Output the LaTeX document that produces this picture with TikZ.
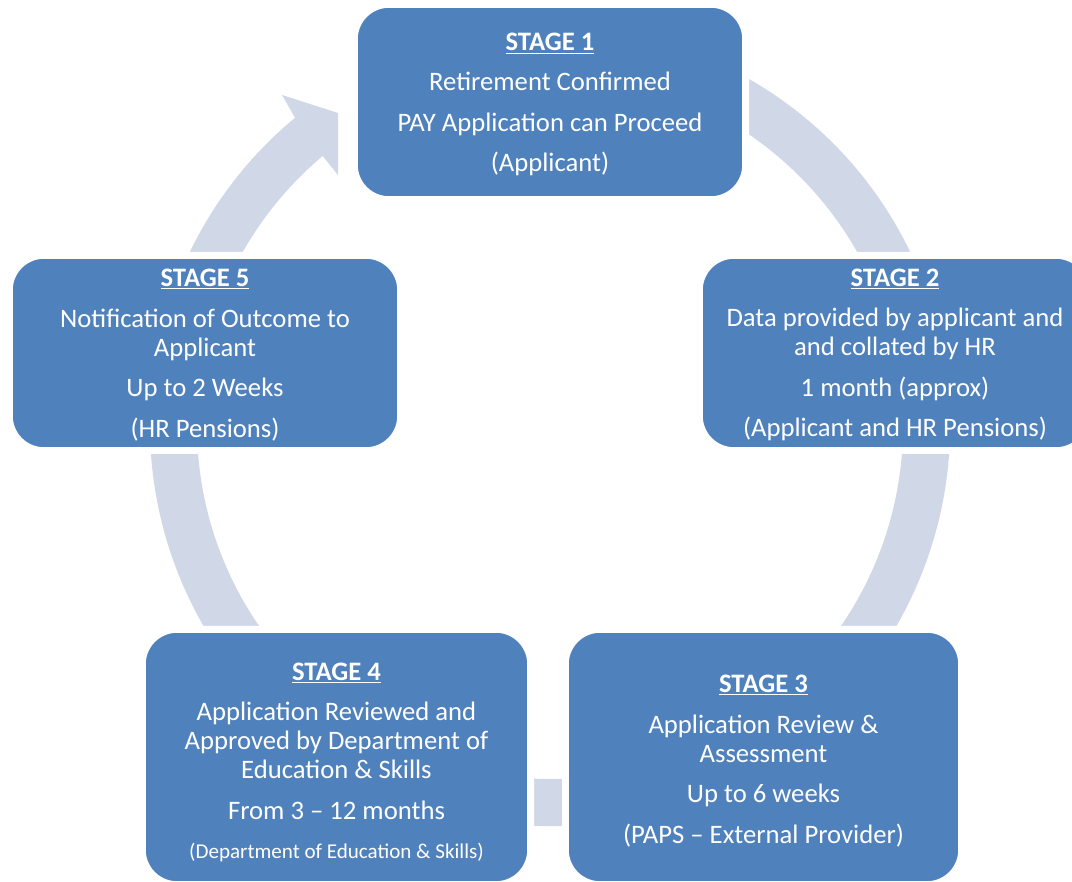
\documentclass[tikz,border=0pt]{standalone}
\usepackage{fontspec}
\setmainfont{Carlito}
\usetikzlibrary{calc}
\definecolor{boxblue}{HTML}{4F81BD}
\definecolor{ringblue}{HTML}{D0D8E8}
\newcommand\mainfnt{\fontsize{20pt}{21.75pt}\selectfont}
\newcommand\smallfnt{\fontsize{15.8pt}{18pt}\selectfont}
\newcommand\stitle[1]{\underline{\textbf{#1}}}
\tikzset{
  stagebox/.style={fill=boxblue, draw=white, line width=1.2pt,
    rounded corners=24pt, inner sep=0pt,
    preaction={draw=white, line width=9pt}},
  stagetext/.style={text=white, align=center, font=\mainfnt, inner sep=0pt},
  ringfill/.style={fill=ringblue},
}
\begin{document}
\begin{tikzpicture}[x=0.75pt,y=0.75pt]
\useasboundingbox (0,0) rectangle (1072,882);
\clip (0,0) rectangle (1072,882);
\fill[white] (0,0) rectangle (1072,882);
\coordinate (c) at (550,456);
% ring with arrow head
\fill[ringfill] ($(c)+(110:400)$) arc[start angle=110, end angle=-230.4, radius=400]
  -- (282,787) -- (338,769) -- (338,707)
  -- ($(c)+(-229.9:353)$) arc[start angle=-229.9, end angle=110, radius=353] -- cycle;
% boxes
\node[stagebox, minimum width=289.5pt, minimum height=142.5pt] (s1) at (550,780) {};
\node[stagebox, minimum width=289.5pt, minimum height=142.5pt] (s2) at (895,529) {};
\node[stagebox, minimum width=293.25pt, minimum height=187.5pt] (s3) at (763.5,125) {};
\node[stagebox, minimum width=287.25pt, minimum height=187.5pt] (s4) at (336.5,125) {};
\node[stagebox, minimum width=289.5pt, minimum height=142.5pt] (s5) at (205,529) {};
% texts
\node[stagetext] (t1) at ([yshift=-2pt]s1.center)
  {\stitle{STAGE 1}\\[8pt]Retirement Confirmed\\[8.6pt]PAY Application can Proceed\\[8.6pt](Applicant)};
\node[stagetext] (t2) at ([yshift=-1.5pt]s2.center)
  {\stitle{STAGE 2}\\[8.6pt]Data provided by applicant and\\and collated by HR\\[8.6pt]1 month (approx)\\[8.6pt](Applicant and HR Pensions)};
\node[stagetext] (t3) at ([yshift=-3pt]s3.center)
  {\stitle{STAGE 3}\\[8.6pt]Application Review \&\\Assessment\\[8.6pt]Up to 6 weeks\\[8.6pt](PAPS -- External Provider)};
\node[stagetext] (t4) at ([yshift=-4pt]s4.center)
  {\stitle{STAGE 4}\\[8.6pt]Application Reviewed and\\Approved by Department of\\Education \& Skills\\[8.6pt]From 3 -- 12 months\\[8pt]{\smallfnt(Department of Education \& Skills)}};
\node[stagetext] (t5) at ([yshift=-1.5pt]s5.center)
  {\stitle{STAGE 5}\\[8.6pt]Notification of Outcome to\\Applicant\\[8.6pt]Up to 2 Weeks\\[8.6pt](HR Pensions)};
\end{tikzpicture}
\end{document}
